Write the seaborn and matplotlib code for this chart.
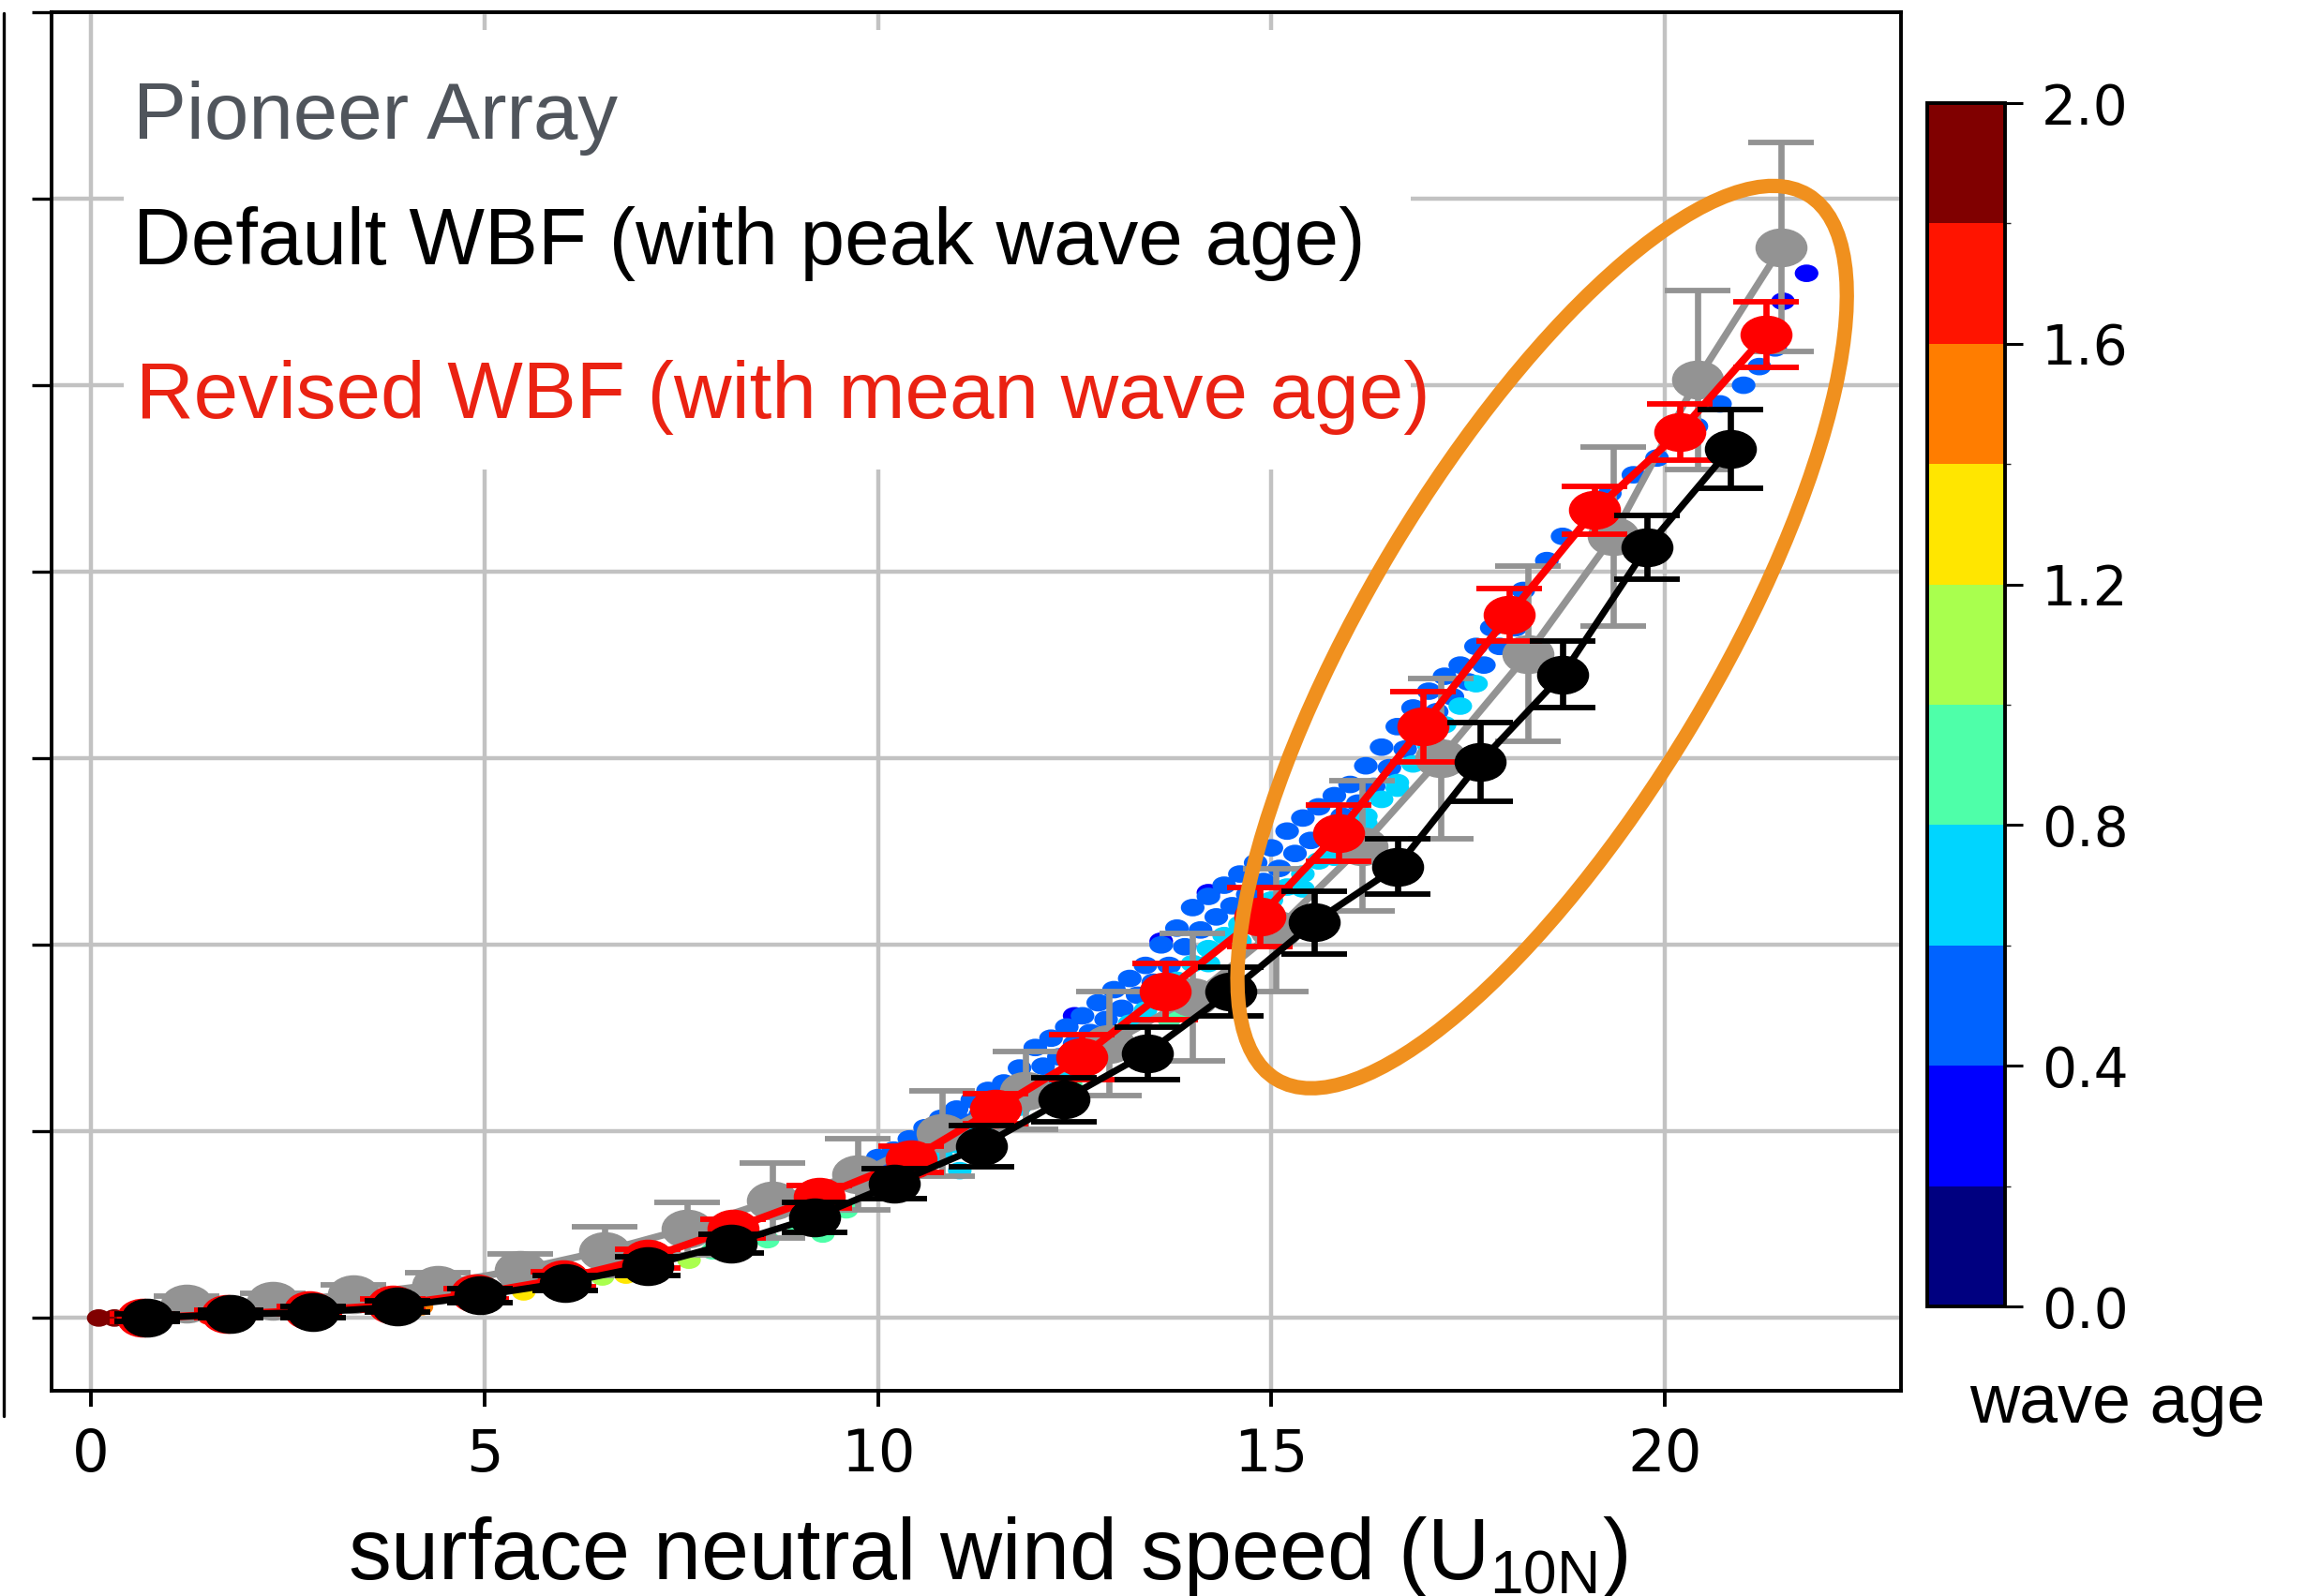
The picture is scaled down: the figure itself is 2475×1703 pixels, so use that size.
"""Whitecap-type curve vs U10N: Pioneer Array vs default / revised WBF, samples coloured by wave age."""

import matplotlib

matplotlib.use("Agg")
import matplotlib.pyplot as plt
import matplotlib.transforms as mtransforms
import pandas as pd
import seaborn as sns
from matplotlib.cm import ScalarMappable
from matplotlib.colors import BoundaryNorm
from matplotlib.lines import Line2D
from matplotlib.patches import Ellipse, Rectangle
from matplotlib.path import Path

# --- bin means (one point per wind-speed bin) ---
PIONEER_U = [1.22, 2.31, 3.34, 4.41, 5.46, 6.53, 7.58, 8.66, 9.74, 10.81,
             11.87, 12.94, 14.0, 15.06, 16.15, 17.15, 18.26, 19.34, 20.41, 21.48]
PIONEER_W = [0.075, 0.09, 0.125, 0.18, 0.26, 0.36, 0.48, 0.63, 0.77, 0.99,
             1.22, 1.47, 1.72, 2.08, 2.53, 3.0, 3.56, 4.19, 5.03, 5.74]
PIONEER_ERR = [0.04, 0.04, 0.055, 0.065, 0.085, 0.13, 0.14, 0.2, 0.19, 0.23,
               0.21, 0.28, 0.34, 0.33, 0.35, 0.43, 0.47, 0.48, 0.48, 0.56]

DEFAULT_U = [0.71, 1.78, 2.82, 3.89, 4.94, 6.03, 7.08, 8.13, 9.19, 10.21,
             11.31, 12.36, 13.42, 14.48, 15.54, 16.6, 17.65, 18.7, 19.77, 20.83]
DEFAULT_W = [0.0, 0.02, 0.03, 0.06, 0.12, 0.19, 0.28, 0.40, 0.54, 0.72,
             0.92, 1.17, 1.42, 1.75, 2.12, 2.42, 2.98, 3.45, 4.13, 4.66]
DEFAULT_ERR = [0.02, 0.02, 0.03, 0.03, 0.04, 0.04, 0.05, 0.05, 0.08, 0.08,
               0.11, 0.12, 0.14, 0.13, 0.17, 0.15, 0.21, 0.18, 0.17, 0.21]

REVISED_U = [0.66, 1.73, 2.78, 3.84, 4.9, 6.0, 7.07, 8.16, 9.25, 10.42,
             11.49, 12.59, 13.65, 14.85, 15.85, 16.92, 18.02, 19.11, 20.19, 21.28]
REVISED_W = [0.0, 0.02, 0.04, 0.07, 0.13, 0.21, 0.32, 0.48, 0.65, 0.85,
             1.12, 1.40, 1.75, 2.15, 2.6, 3.17, 3.77, 4.33, 4.75, 5.27]
REVISED_ERR = [0.02, 0.02, 0.02, 0.03, 0.03, 0.04, 0.05, 0.05, 0.06, 0.07,
               0.08, 0.12, 0.15, 0.16, 0.15, 0.19, 0.14, 0.13, 0.15, 0.175]

# --- individual samples, grouped by wave-age band (value = band centre) ---
AGE_03_U = [12.5, 13.6, 14.2, 21.5, 21.8]
AGE_03_W = [1.62, 2.02, 2.28, 5.45, 5.60]
# outer edge of the blue band
AGE_05_U = [10.0, 10.2, 10.4, 10.6, 10.8, 11.0, 11.2, 11.4, 11.6, 11.8, 12.0, 12.2,
            12.4, 12.6, 12.8, 13.0, 13.2, 13.4, 13.6, 13.8, 14.0, 14.2, 14.4, 14.6,
            14.8, 15.0, 15.2, 15.4, 15.6, 15.8, 16.0, 16.2, 16.4, 16.6, 16.8, 17.0,
            17.2, 17.4, 17.6, 17.8, 18.0, 18.2, 18.5, 18.7, 19.0, 19.3, 19.6, 19.9,
            20.2, 20.4, 20.7, 21.0, 21.2, 21.4]
AGE_05_W = [0.86, 0.90, 0.96, 1.02, 1.07, 1.12, 1.17, 1.22, 1.26, 1.34, 1.45, 1.50,
            1.56, 1.62, 1.69, 1.76, 1.82, 1.89, 2.00, 2.09, 2.20, 2.26, 2.32, 2.38,
            2.44, 2.52, 2.61, 2.68, 2.74, 2.80, 2.86, 2.96, 3.06, 3.17, 3.27, 3.36,
            3.44, 3.50, 3.60, 3.70, 3.80, 3.90, 4.06, 4.19, 4.30, 4.42, 4.52, 4.61,
            4.70, 4.78, 4.90, 5.00, 5.10, 5.20]
# inner row of the blue band
AGE_05B_U = [10.1, 10.3, 10.5, 10.7, 10.9, 11.1, 11.3, 11.5, 11.7, 11.9, 12.1, 12.3,
             12.5, 12.7, 12.9, 13.1, 13.3, 13.5, 13.7, 13.9, 14.1, 14.3, 14.5, 14.7,
             14.9, 15.1, 15.3, 15.5, 15.7, 15.9, 16.1, 16.3, 16.5, 16.7, 16.9, 17.1,
             17.3, 17.5, 17.7, 17.9, 18.1]
AGE_05B_W = [0.80, 0.85, 0.90, 0.95, 1.00, 1.05, 1.09, 1.14, 1.19, 1.26, 1.35, 1.40,
             1.47, 1.53, 1.60, 1.66, 1.73, 1.80, 1.89, 1.99, 2.08, 2.15, 2.21, 2.27,
             2.34, 2.41, 2.49, 2.56, 2.62, 2.69, 2.76, 2.85, 2.95, 3.05, 3.15, 3.25,
             3.33, 3.41, 3.50, 3.60, 3.70]
AGE_07_U = [9.4, 9.9, 10.2, 10.4, 10.6, 10.8, 11.0, 11.04, 11.2, 11.4, 11.6, 11.8,
            12.0, 12.2, 12.4, 12.6, 12.8, 13.0, 13.2, 13.4, 13.6, 13.8, 14.0, 14.2,
            14.4, 14.6, 14.8, 15.0, 15.2, 15.4, 15.6, 15.8, 16.0, 16.2, 16.4, 16.6,
            16.8, 17.0, 17.2, 17.4, 17.6,
            14.2, 14.6, 15.0, 15.4, 15.8, 16.2, 16.6, 17.0]
AGE_07_W = [0.62, 0.70, 0.74, 0.78, 0.83, 0.88, 0.93, 0.79, 0.98, 1.03, 1.08, 1.13,
            1.19, 1.25, 1.31, 1.37, 1.44, 1.51, 1.58, 1.65, 1.72, 1.81, 1.90, 1.98,
            2.05, 2.11, 2.17, 2.24, 2.31, 2.38, 2.45, 2.53, 2.61, 2.69, 2.78, 2.87,
            2.97, 3.07, 3.18, 3.28, 3.40,
            1.90, 2.02, 2.15, 2.30, 2.47, 2.65, 2.84, 3.02]
AGE_09_U = [7.9, 8.6, 9.0, 9.3, 9.6, 12.45, 13.7, 13.9, 15.0]
AGE_09_W = [0.36, 0.42, 0.49, 0.45, 0.58, 1.25, 1.60, 1.65, 2.05]
AGE_11_U = [6.5, 7.0, 7.6, 8.1]
AGE_11_W = [0.22, 0.26, 0.31, 0.36]
AGE_13_U = [5.5, 6.2, 6.8]
AGE_13_W = [0.14, 0.19, 0.23]
AGE_15_U = [3.0, 4.2, 5.0]
AGE_15_W = [0.02, 0.06, 0.10]
AGE_17_U = [0.5, 1.5]
AGE_17_W = [0.0, 0.01]
AGE_19_U = [0.1, 0.3]
AGE_19_W = [0.0, 0.0]

WAVE_AGE_LEVELS = [0.0, 0.2, 0.4, 0.6, 0.8, 1.0, 1.2, 1.4, 1.6, 1.8, 2.0]
CBAR_TICKS = [0.0, 0.4, 0.8, 1.2, 1.6, 2.0]
X_TICKS = [0, 5, 10, 15, 20]
Y_TICKS = [0, 1, 2, 3, 4, 5, 6, 7]

LABELS = ["Pioneer Array", "Default WBF (with peak wave age)", "Revised WBF (with mean wave age)"]
LABEL_COLORS = ["#50555c", "#000000", "#ea2212"]

# markers in the source are slightly wider than tall
OVAL = Path.unit_circle().transformed(mtransforms.Affine2D().scale(1.35, 1.0))


def build_cloud() -> pd.DataFrame:
    bands = [
        (0.3, AGE_03_U, AGE_03_W), (0.5, AGE_05_U, AGE_05_W), (0.5, AGE_05B_U, AGE_05B_W),
        (0.7, AGE_07_U, AGE_07_W), (0.9, AGE_09_U, AGE_09_W), (1.1, AGE_11_U, AGE_11_W),
        (1.3, AGE_13_U, AGE_13_W), (1.5, AGE_15_U, AGE_15_W), (1.7, AGE_17_U, AGE_17_W),
        (1.9, AGE_19_U, AGE_19_W),
    ]
    rows = [(u, w, age) for age, us, ws in bands for u, w in zip(us, ws)]
    return pd.DataFrame(rows, columns=["u10n", "wbf", "wave_age"])


def main() -> None:
    sns.set_theme(style="white")
    plt.rcParams["font.family"] = ["DejaVu Sans"]
    plt.rcParams["text.color"] = "black"
    plt.rcParams["axes.edgecolor"] = "black"

    fig = plt.figure(figsize=(24.75, 17.03), dpi=100)
    ax = fig.add_axes([0.0222, 0.1286, 0.7972, 0.8638])
    ax.set_axisbelow(True)
    ax.grid(True, color="#c2c2c2", linewidth=3.2)

    cmap = matplotlib.colormaps["jet"].resampled(10)
    norm = BoundaryNorm(WAVE_AGE_LEVELS, cmap.N)

    cloud = build_cloud()
    sns.scatterplot(
        data=cloud, x="u10n", y="wbf", hue="wave_age", palette=cmap, hue_norm=norm,
        marker=OVAL, s=330, linewidth=0, legend=False, ax=ax, zorder=2,
    )

    series = [
        (PIONEER_U, PIONEER_W, PIONEER_ERR, "#939393", 5.4, 3),
        (REVISED_U, REVISED_W, REVISED_ERR, "#ff0000", 5.8, 4),
        (DEFAULT_U, DEFAULT_W, DEFAULT_ERR, "#000000", 5.2, 5),
    ]
    for u, w, err, color, lw, z in series:
        ax.errorbar(
            u, w, yerr=err, color=color, marker=OVAL, markersize=39, linewidth=lw,
            elinewidth=4.8, capsize=25, capthick=4.2, zorder=z,
        )

    # white box behind the text block
    ax.add_patch(Rectangle((0.039, 0.668), 0.696, 0.319, transform=ax.transAxes,
                           facecolor="white", edgecolor="none", zorder=1.5))
    for label, color, (tx, ty) in zip(LABELS, LABEL_COLORS,
                                      [(0.044, 0.9082), (0.044, 0.8171), (0.0455, 0.7056)]):
        ax.text(tx, ty, label, color=color, fontsize=61.5, family="Liberation Sans",
                transform=ax.transAxes, ha="left", va="baseline", zorder=6)

    # orange highlight around the high-wind bins (size in inches, centre in data)
    ell_trans = fig.dpi_scale_trans + mtransforms.ScaledTranslation(18.44, 3.65, ax.transData)
    ax.add_patch(Ellipse((0, 0), 11.01, 3.71, angle=59, transform=ell_trans, fill=False,
                         edgecolor="#f0901e", linewidth=11, zorder=7))

    ax.set_xlim(-0.5, 23.0)
    ax.set_ylim(-0.39, 7.0)
    ax.set_xticks(X_TICKS)
    ax.set_yticks(Y_TICKS)
    ax.set_xlabel("")
    ax.set_ylabel("")
    ax.tick_params(axis="x", direction="out", length=12, width=2.8, pad=16, labelsize=45,
                   bottom=True, color="black", labelcolor="black")
    ax.tick_params(axis="y", direction="out", length=15, width=2.4, left=True,
                   labelleft=False, color="black")
    for spine in ax.spines.values():
        spine.set_linewidth(2.8)
        spine.set_color("black")

    cax = fig.add_axes([0.8307, 0.1814, 0.0335, 0.754])
    cb = fig.colorbar(ScalarMappable(norm=norm, cmap=cmap), cax=cax, ticks=CBAR_TICKS)
    cb.ax.yaxis.set_major_formatter("{x:.1f}")
    cb.ax.tick_params(length=14, width=2.2, pad=14, labelsize=42, right=True,
                      color="black", labelcolor="black")
    cb.outline.set_linewidth(2.8)
    cb.outline.set_edgecolor("black")

    fig.text(0.9127, 0.1086, "wave age", ha="center", va="baseline", fontsize=53,
             family="Liberation Sans", color="black")
    fig.text(0.4257, 0.0106, r"surface neutral wind speed (U$_{\mathregular{10N}}$)",
             ha="center", va="baseline", fontsize=66, family="Liberation Sans", color="black")

    # edge of the neighbouring panel, cut off at the left
    fig.add_artist(Line2D([0.0016, 0.0016], [0.113, 0.992], transform=fig.transFigure,
                          color="black", linewidth=2.4))

    fig.savefig("out.png", dpi=100)
    plt.close(fig)


if __name__ == "__main__":
    main()
